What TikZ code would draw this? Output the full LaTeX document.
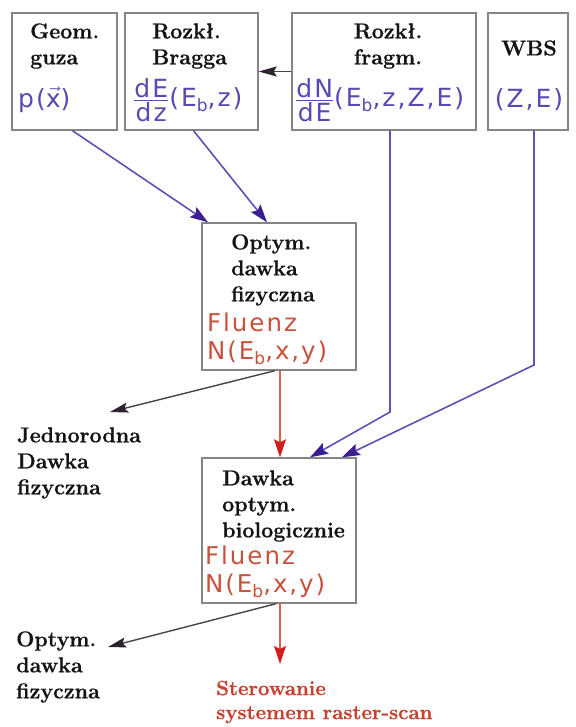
\documentclass[tikz,border=0pt]{standalone}
\usepackage{fontspec}
\usetikzlibrary{arrows.meta}
\newfontfamily\labfont[LetterSpace=8]{DejaVu Sans}
\newfontfamily\titlefont{Latin Modern Roman}[BoldFeatures={FakeBold=0.7}]
\definecolor{boxgray}{HTML}{858585}
\definecolor{labblue}{HTML}{5A48B4}
\definecolor{lineblue}{HTML}{5C52B6}
\definecolor{tipblue}{HTML}{3A1E92}
\definecolor{labred}{HTML}{C8523E}
\definecolor{linered}{HTML}{D86050}
\definecolor{tipred}{HTML}{D01E1E}
\definecolor{darkline}{HTML}{4A4250}
\definecolor{darktip}{HTML}{2E2230}
\definecolor{titlered}{HTML}{C8402E}
\newcommand{\subb}{\raisebox{-0.35ex}{\fontsize{17}{17}\selectfont b}}
\newcommand{\myfrac}[2]{${\hbox{#1}\above 1.3pt \hbox{#2}}$}
\tikzset{
  box/.style={draw=boxgray, line width=1.4pt, fill=white, inner sep=0pt},
  title/.style={font=\titlefont\fontsize{21.5}{26}\selectfont\bfseries, text=black!92, inner sep=0pt, align=left},
  bluelab/.style={font=\labfont\fontsize{25}{29}\selectfont, text=labblue, inner sep=0pt},
  redlab/.style={font=\labfont\fontsize{24.5}{28}\selectfont, text=labred, inner sep=0pt, align=left},
  bluearrow/.style={draw=lineblue, line width=1.6pt, -{Stealth[length=18pt,width=12pt,inset=3pt,color=tipblue]}},
  redarrow/.style={draw=linered, line width=1.3pt, -{Stealth[length=18pt,width=12pt,inset=3pt,color=tipred]}},
  darkarrow/.style={draw=darkline, line width=1.4pt, -{Stealth[length=18pt,width=10pt,inset=3pt,color=darktip]}}
}
\begin{document}
\begin{tikzpicture}[x=1pt,y=-1pt]
\useasboundingbox (0,0) rectangle (575,727);
% boxes
\node[box, minimum width=105pt, minimum height=117pt] (geom) at (64.5,71.5) {};
\node[box, minimum width=133pt, minimum height=117pt] (bragg) at (191.5,71.5) {};
\node[box, minimum width=184pt, minimum height=117pt] (fragm) at (384,71.5) {};
\node[box, minimum width=80pt, minimum height=117pt] (wbs) at (528,71.5) {};
\node[box, minimum width=154pt, minimum height=147pt] (opt) at (279,296.5) {};
\node[box, minimum width=154pt, minimum height=145pt] (dawka) at (279,530.5) {};
% texts in top boxes
\node[title, anchor=west] (geomT) at (30,46) {Geom.\\guza};
\node[bluelab, anchor=west] (geomF) at (18,100) {p($\vec{\hbox{x}}$)};
\node[title, anchor=west] (braggT) at (152,46) {Rozkł.\\Bragga};
\node[bluelab, anchor=west] (braggF) at (133,100) {\myfrac{dE}{dz}(E\subb,z)};
\node[title, align=center] (fragmT) at (388,46) {Rozkł.\\fragm.};
\node[bluelab, anchor=west] (fragmF) at (295,100) {\myfrac{dN}{dE}(E\subb,z,Z,E)};
\node[title] (wbsT) at (529,48) {WBS};
\node[bluelab] (wbsF) at (529,100) {(Z,E)};
% middle boxes
\node[title, anchor=west] (optT) at (231,270) {Optym.\\dawka\\fizyczna};
\node[redlab, anchor=west] (optF) at (207,339) {Fluenz\\N(E\subb,x,y)};
\node[title, anchor=west] (dawkaT) at (222,506) {Dawka\\optym.\\biologicznie};
\node[redlab, anchor=west] (dawkaF) at (205,572) {Fluenz\\N(E\subb,x,y)};
% free labels
\node[title, anchor=west] (jedn) at (17,463) {Jednorodna\\Dawka\\fizyczna};
\node[title, anchor=west] (optlab) at (16,667) {Optym.\\dawka\\fizyczna};
\node[title, anchor=west, text=titlered, font=\titlefont\fontsize{20.5}{24}\selectfont\bfseries] (ster) at (216,702) {Sterowanie\\systemem raster-scan};
% coordinates
\coordinate (fbend) at (390,412);
\coordinate (wbend) at (534,365);
\coordinate (jtip) at (110,412);
\coordinate (otip) at (108,647);
\coordinate (stip) at (280,664);
% connectors
\draw[darkarrow] (fragm.west) -- (bragg.east);
\draw[bluearrow] ([xshift=8pt]geom.south) -- ([xshift=-71pt]opt.north);
\draw[bluearrow] ([xshift=2pt]bragg.south) -- ([xshift=-12pt]opt.north);
\draw[bluearrow] ([xshift=6pt]fragm.south) -- (fbend) -- ([xshift=31pt]dawka.north);
\draw[bluearrow] ([xshift=6pt]wbs.south) -- (wbend) -- ([xshift=63pt]dawka.north);
\draw[darkarrow] ([xshift=-4pt]opt.south) -- (jtip);
\draw[redarrow] ([xshift=1pt]opt.south) -- ([xshift=1pt]dawka.north);
\draw[darkarrow] ([xshift=-3pt]dawka.south) -- (otip);
\draw[redarrow] ([xshift=1pt]dawka.south) -- (stip);
\end{tikzpicture}
\end{document}
